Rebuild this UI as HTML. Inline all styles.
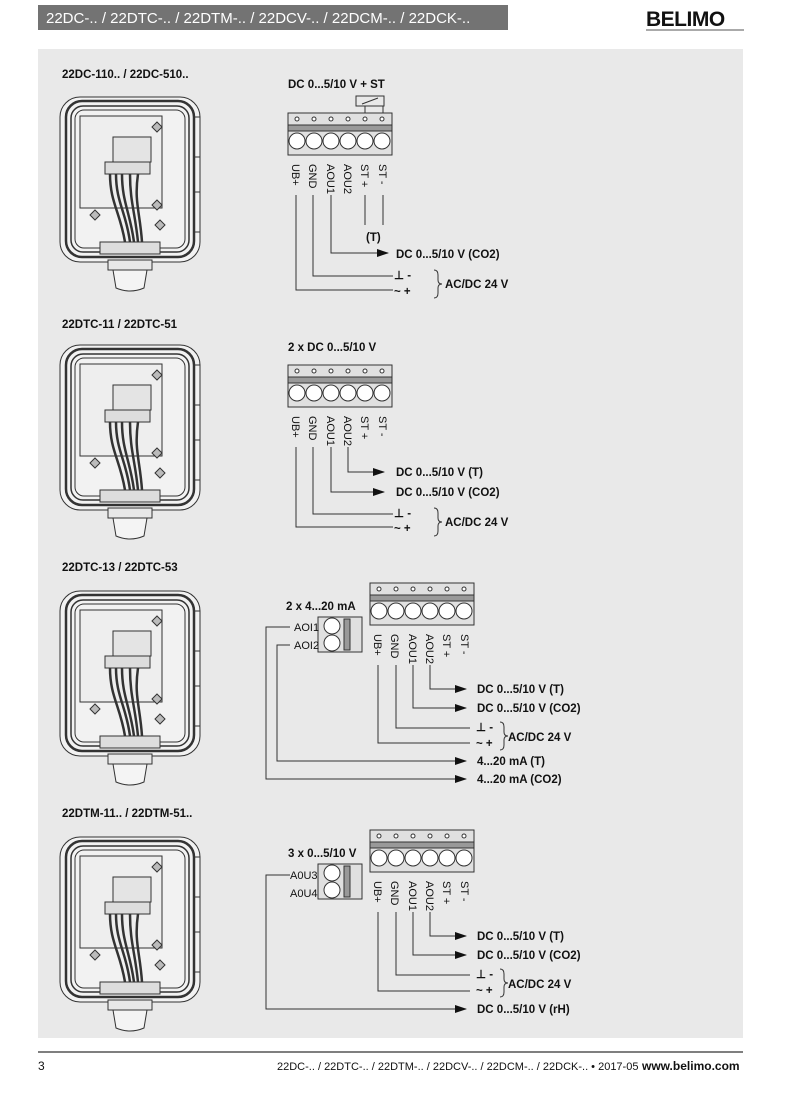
<!DOCTYPE html>
<html><head><meta charset="utf-8"><style>
body{margin:0;background:#fff;width:800px;height:1094px;overflow:hidden;font-family:"Liberation Sans",sans-serif}
svg{display:block}
text{font-family:"Liberation Sans",sans-serif;fill:#111}
.b{font-weight:bold;font-size:11.5px}
.r{font-size:11px}
</style></head><body>
<svg width="800" height="1094" viewBox="0 0 800 1094">
<defs>
<marker id="ar" markerWidth="12" markerHeight="8" refX="11" refY="4" orient="auto" markerUnits="userSpaceOnUse"><path d="M0,0 L12,4 L0,8z" fill="#111"/></marker>
<g id="dev" fill="none" stroke="#333" stroke-width="1">
<rect x="0" y="5" width="140" height="165" rx="20" fill="#f2f2f2"/>
<rect x="6" y="9" width="128" height="156" rx="16" stroke-width="2.5"/>
<rect x="11" y="14" width="118" height="146" rx="12" stroke-width="1.5"/>
<rect x="15" y="18" width="110" height="138" rx="9"/>
<rect x="20" y="24" width="82" height="92" fill="#eee"/>
<rect x="53" y="45" width="38" height="25" fill="#e4e4e4"/>
<rect x="45" y="70" width="45" height="12" fill="#ddd"/>
<path d="M50,82 C50,110 60,120 65,150 M56,82 C56,110 66,120 70,150 M62,82 C62,110 70,120 74,150 M70,82 C70,110 75,120 78,150 M78,82 C74,110 80,120 82,150" stroke-width="2.5"/>
<rect x="40" y="150" width="60" height="12" fill="#ddd"/>
<path d="M97,30 l5,5 l-5,5 l-5,-5z M97,108 l5,5 l-5,5 l-5,-5z M35,118 l5,5 l-5,5 l-5,-5z M100,128 l5,5 l-5,5 l-5,-5z" fill="#bbb"/>
<rect x="134" y="25" width="6" height="40"/><rect x="134" y="100" width="6" height="40"/>
<rect x="48" y="168" width="44" height="10" fill="#e8e8e8"/>
<path d="M53,178 h34 l-3,18 q-14,6 -28,0z" fill="#f4f4f4"/>
</g>
<g id="tb" stroke="#333" stroke-width="1">
<rect x="0" y="0" width="104" height="42" fill="#e0e0e0"/>
<rect x="0" y="12" width="104" height="6" fill="#999"/>
<g fill="#fff">
<circle cx="9" cy="6" r="2"/><circle cx="26" cy="6" r="2"/><circle cx="43" cy="6" r="2"/><circle cx="60" cy="6" r="2"/><circle cx="77" cy="6" r="2"/><circle cx="94" cy="6" r="2"/>
<circle cx="9" cy="28" r="8"/><circle cx="26" cy="28" r="8"/><circle cx="43" cy="28" r="8"/><circle cx="60" cy="28" r="8"/><circle cx="77" cy="28" r="8"/><circle cx="94" cy="28" r="8"/>
</g>
</g>
<g id="lab" class="r">
<text transform="translate(292,164) rotate(90)">UB+</text>
<text transform="translate(309,164) rotate(90)">GND</text>
<text transform="translate(327,164) rotate(90)">AOU1</text>
<text transform="translate(344,164) rotate(90)">AOU2</text>
<text transform="translate(361,164) rotate(90)">ST +</text>
<text transform="translate(379,164) rotate(90)">ST -</text>
</g>
<g id="sb" stroke="#333" stroke-width="1">
<rect x="0" y="0" width="44" height="35" fill="#e0e0e0"/>
<circle cx="14" cy="9" r="8" fill="#fff"/><circle cx="14" cy="26" r="8" fill="#fff"/>
<rect x="26" y="2" width="6" height="31" fill="#999"/>
</g>
</defs>

<rect x="38" y="5" width="470" height="25" fill="#737373"/>
<text x="46" y="23" style="font-size:15px;fill:#fff">22DC-.. / 22DTC-.. / 22DTM-.. / 22DCV-.. / 22DCM-.. / 22DCK-..</text>
<text x="646" y="26" style="font-size:21px;font-weight:bold;letter-spacing:-0.5px">BELIMO</text>
<line x1="646" y1="30" x2="744" y2="30" stroke="#555" stroke-width="1"/>
<rect x="38" y="49" width="705" height="989" fill="#e9e9e9"/>

<g class="b">
<text x="62" y="78">22DC-110.. / 22DC-510..</text>
<text x="62" y="328">22DTC-11 / 22DTC-51</text>
<text x="62" y="571">22DTC-13 / 22DTC-53</text>
<text x="62" y="817">22DTM-11.. / 22DTM-51..</text>
</g>
<use href="#dev" x="60" y="92"/>
<use href="#dev" x="60" y="340"/>
<use href="#dev" x="60" y="586"/>
<use href="#dev" x="60" y="832"/>

<g fill="none" stroke="#333" stroke-width="1">
<path d="M296,195 V290 H393 M313,195 V276 H393" />
<path d="M331,195 V253 H388" marker-end="url(#ar)"/>
<path d="M365,195 V225 M383,195 V225"/>
<path d="M365,116 V106 h-9 v-10 h28 v10 h-1 v10 M356,106 h28 M362,104 l16,-6"/>
<path d="M296,447 V527 H393 M313,447 V514 H393"/>
<path d="M348,447 V472 H384" marker-end="url(#ar)"/>
<path d="M331,447 V492 H384" marker-end="url(#ar)"/>
<path d="M378,665 V743 H470 M396,665 V728 H470"/>
<path d="M430,665 V689 H466" marker-end="url(#ar)"/>
<path d="M413,665 V708 H466" marker-end="url(#ar)"/>
<path d="M290,645 H277 V761 H466" marker-end="url(#ar)"/>
<path d="M290,627 H266 V779 H466" marker-end="url(#ar)"/>
<path d="M378,912 V991 H470 M396,912 V975 H470"/>
<path d="M430,912 V936 H466" marker-end="url(#ar)"/>
<path d="M413,912 V955 H466" marker-end="url(#ar)"/>
<path d="M290,875 H266 V1009 H466" marker-end="url(#ar)"/>
<path d="M434,270 q4,0 4,5 v5 q0,4 4,4 q-4,0 -4,4 v5 q0,5 -4,5"/>
<path d="M434,508 q4,0 4,5 v5 q0,4 4,4 q-4,0 -4,4 v5 q0,5 -4,5"/>
<path d="M500,722 q4,0 4,5 v5 q0,4 4,4 q-4,0 -4,4 v5 q0,5 -4,5"/>
<path d="M500,969 q4,0 4,5 v5 q0,4 4,4 q-4,0 -4,4 v5 q0,5 -4,5"/>
</g>

<use href="#tb" x="288" y="113"/>
<use href="#lab"/>
<use href="#tb" x="288" y="365"/>
<use href="#lab" y="252"/>
<use href="#tb" x="370" y="583"/>
<use href="#lab" x="82" y="470"/>
<use href="#sb" x="318" y="617"/>
<use href="#tb" x="370" y="830"/>
<use href="#lab" x="82" y="717"/>
<use href="#sb" x="318" y="864"/>

<g class="b">
<text x="288" y="88">DC 0...5/10 V + ST</text>
<text x="366" y="241">(T)</text>
<text x="396" y="258">DC 0...5/10 V (CO2)</text>
<text x="394" y="279">⊥ -</text><text x="394" y="295">~ +</text>
<text x="445" y="288">AC/DC 24 V</text>

<text x="288" y="351">2 x DC 0...5/10 V</text>
<text x="396" y="476">DC 0...5/10 V (T)</text>
<text x="396" y="496">DC 0...5/10 V (CO2)</text>
<text x="394" y="517">⊥ -</text><text x="394" y="532">~ +</text>
<text x="445" y="526">AC/DC 24 V</text>

<text x="286" y="610">2 x 4...20 mA</text>
<text x="477" y="693">DC 0...5/10 V (T)</text>
<text x="477" y="712">DC 0...5/10 V (CO2)</text>
<text x="476" y="731">⊥ -</text><text x="476" y="747">~ +</text>
<text x="508" y="741">AC/DC 24 V</text>
<text x="477" y="765">4...20 mA (T)</text>
<text x="477" y="783">4...20 mA (CO2)</text>

<text x="288" y="857">3 x 0...5/10 V</text>
<text x="477" y="940">DC 0...5/10 V (T)</text>
<text x="477" y="959">DC 0...5/10 V (CO2)</text>
<text x="476" y="978">⊥ -</text><text x="476" y="994">~ +</text>
<text x="508" y="988">AC/DC 24 V</text>
<text x="477" y="1013">DC 0...5/10 V (rH)</text>
</g>
<g class="r">
<text x="294" y="631">AOI1</text><text x="294" y="649">AOI2</text>
<text x="290" y="879">A0U3</text><text x="290" y="897">A0U4</text>
</g>

<line x1="38" y1="1052" x2="743" y2="1052" stroke="#555" stroke-width="1.5"/>
<text x="38" y="1070" style="font-size:12px">3</text>
<text x="277" y="1070" style="font-size:11px">22DC-.. / 22DTC-.. / 22DTM-.. / 22DCV-.. / 22DCM-.. / 22DCK-.. • 2017-05</text>
<text x="642" y="1070" style="font-size:12px;font-weight:bold">www.belimo.com</text>
</svg>
</body></html>
